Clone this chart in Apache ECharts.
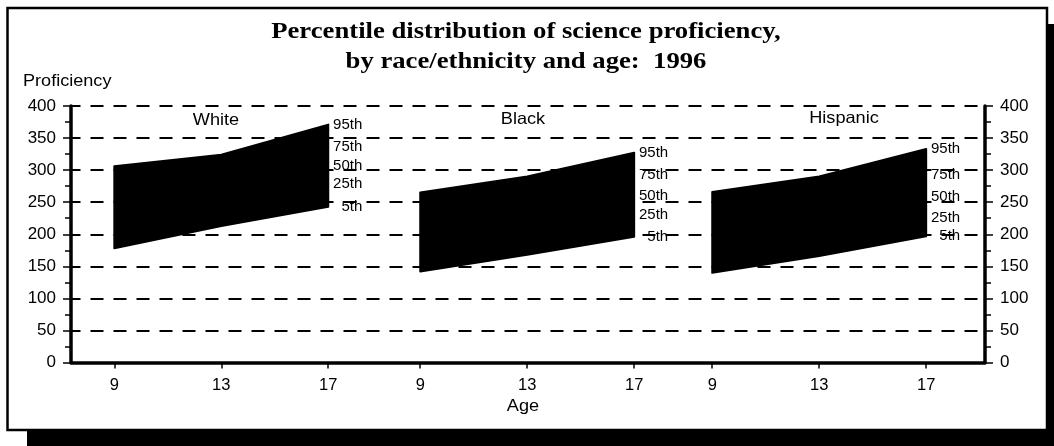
<!DOCTYPE html>
<html>
<head>
<meta charset="utf-8">
<script src="https://cdn.jsdelivr.net/npm/echarts@6/dist/echarts.min.js"></script>
<style>
  html, body { margin: 0; padding: 0; background: #fff; }
  #chart { width: 1054px; height: 446px; }
</style>
</head>
<body>
<div id="chart"></div>
<script>
// Ages tested and the three groups shown side by side
const ages = [9, 13, 17];
const groupNames = ['White', 'Black', 'Hispanic'];
const percentileNames = ['95th', '75th', '50th', '25th', '5th'];

// 95th and 5th percentile science proficiency, ages 9 / 13 / 17
const whiteP95 = [306, 324, 371];
const whiteP5 = [178, 213, 243];
const blackP95 = [265, 290, 327];
const blackP5 = [142, 168, 196];
const hispanicP95 = [266, 290, 333];
const hispanicP5 = [140, 166, 197];

// 75th, 50th and 25th percentiles at age 17 (where the percentile labels sit)
const whiteMid17 = [336, 306, 279];
const blackMid17 = [292, 260, 230];
const hispanicMid17 = [292, 259, 226];

// ---- layout ----
const SANS = '"Liberation Sans", Arial, Helvetica, sans-serif';
const SERIF = '"Liberation Serif", "Times New Roman", serif';
const GROUP_SHIFT = [0, 11.44, 22.36];   // horizontal offset of each panel on the age axis
const X_MIN = 7.38, X_MAX = 41.56;

const p95 = [whiteP95, blackP95, hispanicP95];
const p5 = [whiteP5, blackP5, hispanicP5];
const mid17 = [whiteMid17, blackMid17, hispanicMid17];

// age-axis positions and their printed labels
const tickPos = [];
const tickText = {};
GROUP_SHIFT.forEach(function (s) {
  ages.forEach(function (a) {
    const v = +(a + s).toFixed(4);
    tickPos.push(v);
    tickText[v.toFixed(2)] = String(a);
  });
});

// one band per group: [x9, x13, x17, top9, top13, top17, bot9, bot13, bot17]
const bandData = groupNames.map(function (g, gi) {
  const xs = ages.map(function (a) { return a + GROUP_SHIFT[gi]; });
  return xs.concat(p95[gi], p5[gi]);
});

// percentile labels beside the age-17 edge of every band
const labelData = [];
groupNames.forEach(function (g, gi) {
  const x17 = ages[2] + GROUP_SHIFT[gi];
  const vals = [p95[gi][2], mid17[gi][0], mid17[gi][1], mid17[gi][2], p5[gi][2]];
  vals.forEach(function (v) { labelData.push([x17, v]); });
});

const chart = echarts.init(document.getElementById('chart'), null, { renderer: 'canvas' });

const yAxisBase = {
  type: 'value',
  min: 0,
  max: 400,
  interval: 50,
  axisLine: { show: true, lineStyle: { color: '#000', width: 3.5 } },
  axisTick: { show: true, inside: false, length: 8, lineStyle: { color: '#000', width: 1.5 } },
  minorTick: { show: true, splitNumber: 2, length: 6, lineStyle: { color: '#000', width: 1.5 } },
  axisLabel: { color: '#000', fontFamily: SANS, fontSize: 17, margin: 15 },
  splitLine: { show: false }
};

chart.setOption({
  backgroundColor: '#fff',
  animation: false,
  grid: { left: 71, right: 69, top: 106, bottom: 83.5, containLabel: false },
  xAxis: {
    type: 'value',
    min: X_MIN,
    max: X_MAX,
    axisLine: { show: true, onZero: false, lineStyle: { color: '#000', width: 3.5 } },
    axisTick: { show: true, customValues: tickPos, length: 6, lineStyle: { color: '#000', width: 1.5 } },
    axisLabel: {
      show: true,
      customValues: tickPos,
      color: '#000',
      fontFamily: SANS,
      fontSize: 16.5,
      margin: 14,
      formatter: function (v) { return tickText[(+v).toFixed(2)] || ''; }
    },
    splitLine: { show: false }
  },
  yAxis: [
    Object.assign({}, yAxisBase, {
      position: 'left',
      splitLine: {
        show: true,
        lineStyle: { color: '#000', width: 1.8, type: [13, 10], dashOffset: 3.5 }
      }
    }),
    Object.assign({}, yAxisBase, { position: 'right' })
  ],
  series: [
    {
      type: 'custom',
      name: 'bands',
      coordinateSystem: 'cartesian2d',
      encode: { x: [0, 1, 2], y: [3, 4, 5, 6, 7, 8] },
      data: bandData,
      z: 5,
      renderItem: function (params, api) {
        const top = [0, 1, 2].map(function (i) { return api.coord([api.value(i), api.value(3 + i)]); });
        const bot = [2, 1, 0].map(function (i) { return api.coord([api.value(i), api.value(6 + i)]); });
        return {
          type: 'polygon',
          shape: { points: top.concat(bot) },
          style: { fill: '#000', stroke: '#000', lineWidth: 2, lineJoin: 'round' }
        };
      }
    },
    {
      type: 'custom',
      name: 'percentiles',
      coordinateSystem: 'cartesian2d',
      encode: { x: 0, y: 1 },
      data: labelData,
      z: 6,
      renderItem: function (params, api) {
        const p = api.coord([api.value(0), api.value(1)]);
        return {
          type: 'text',
          x: p[0] + 34,
          y: p[1],
          style: {
            text: percentileNames[params.dataIndex % 5],
            fill: '#000',
            fontFamily: SANS,
            fontSize: 15,
            align: 'right',
            verticalAlign: 'middle'
          }
        };
      }
    }
  ],
  graphic: [
    // drop shadow and frame
    { type: 'rect', z: -20, shape: { x: 27, y: 24, width: 1054 - 27, height: 446 - 24 }, style: { fill: '#000' } },
    { type: 'rect', z: -19, shape: { x: 7.5, y: 8, width: 1039.5, height: 422 }, style: { fill: '#fff', stroke: '#000', lineWidth: 2.5 } },
    // title
    { type: 'text', z: 20, x: 526, y: 32, scaleX: 1.16,
      style: { text: 'Percentile distribution of science proficiency,', font: 'bold 23px ' + SERIF, fill: '#000', align: 'center', verticalAlign: 'middle' } },
    { type: 'text', z: 20, x: 526, y: 62, scaleX: 1.16,
      style: { text: 'by race/ethnicity and age:  1996', font: 'bold 23px ' + SERIF, fill: '#000', align: 'center', verticalAlign: 'middle' } },
    // axis names
    { type: 'text', z: 20, x: 23, y: 82, scaleX: 1.13,
      style: { text: 'Proficiency', font: '16px ' + SANS, fill: '#000', align: 'left', verticalAlign: 'middle' } },
    { type: 'text', z: 20, x: 523, y: 406, scaleX: 1.1,
      style: { text: 'Age', font: '16.5px ' + SANS, fill: '#000', align: 'center', verticalAlign: 'middle' } },
    // panel names
    { type: 'text', z: 20, x: 216, y: 120, scaleX: 1.1,
      style: { text: groupNames[0], font: '16.5px ' + SANS, fill: '#000', align: 'center', verticalAlign: 'middle' } },
    { type: 'text', z: 20, x: 523, y: 119, scaleX: 1.1,
      style: { text: groupNames[1], font: '16.5px ' + SANS, fill: '#000', align: 'center', verticalAlign: 'middle' } },
    { type: 'text', z: 20, x: 844, y: 118, scaleX: 1.1,
      style: { text: groupNames[2], font: '16.5px ' + SANS, fill: '#000', align: 'center', verticalAlign: 'middle' } }
  ]
});
</script>
</body>
</html>
